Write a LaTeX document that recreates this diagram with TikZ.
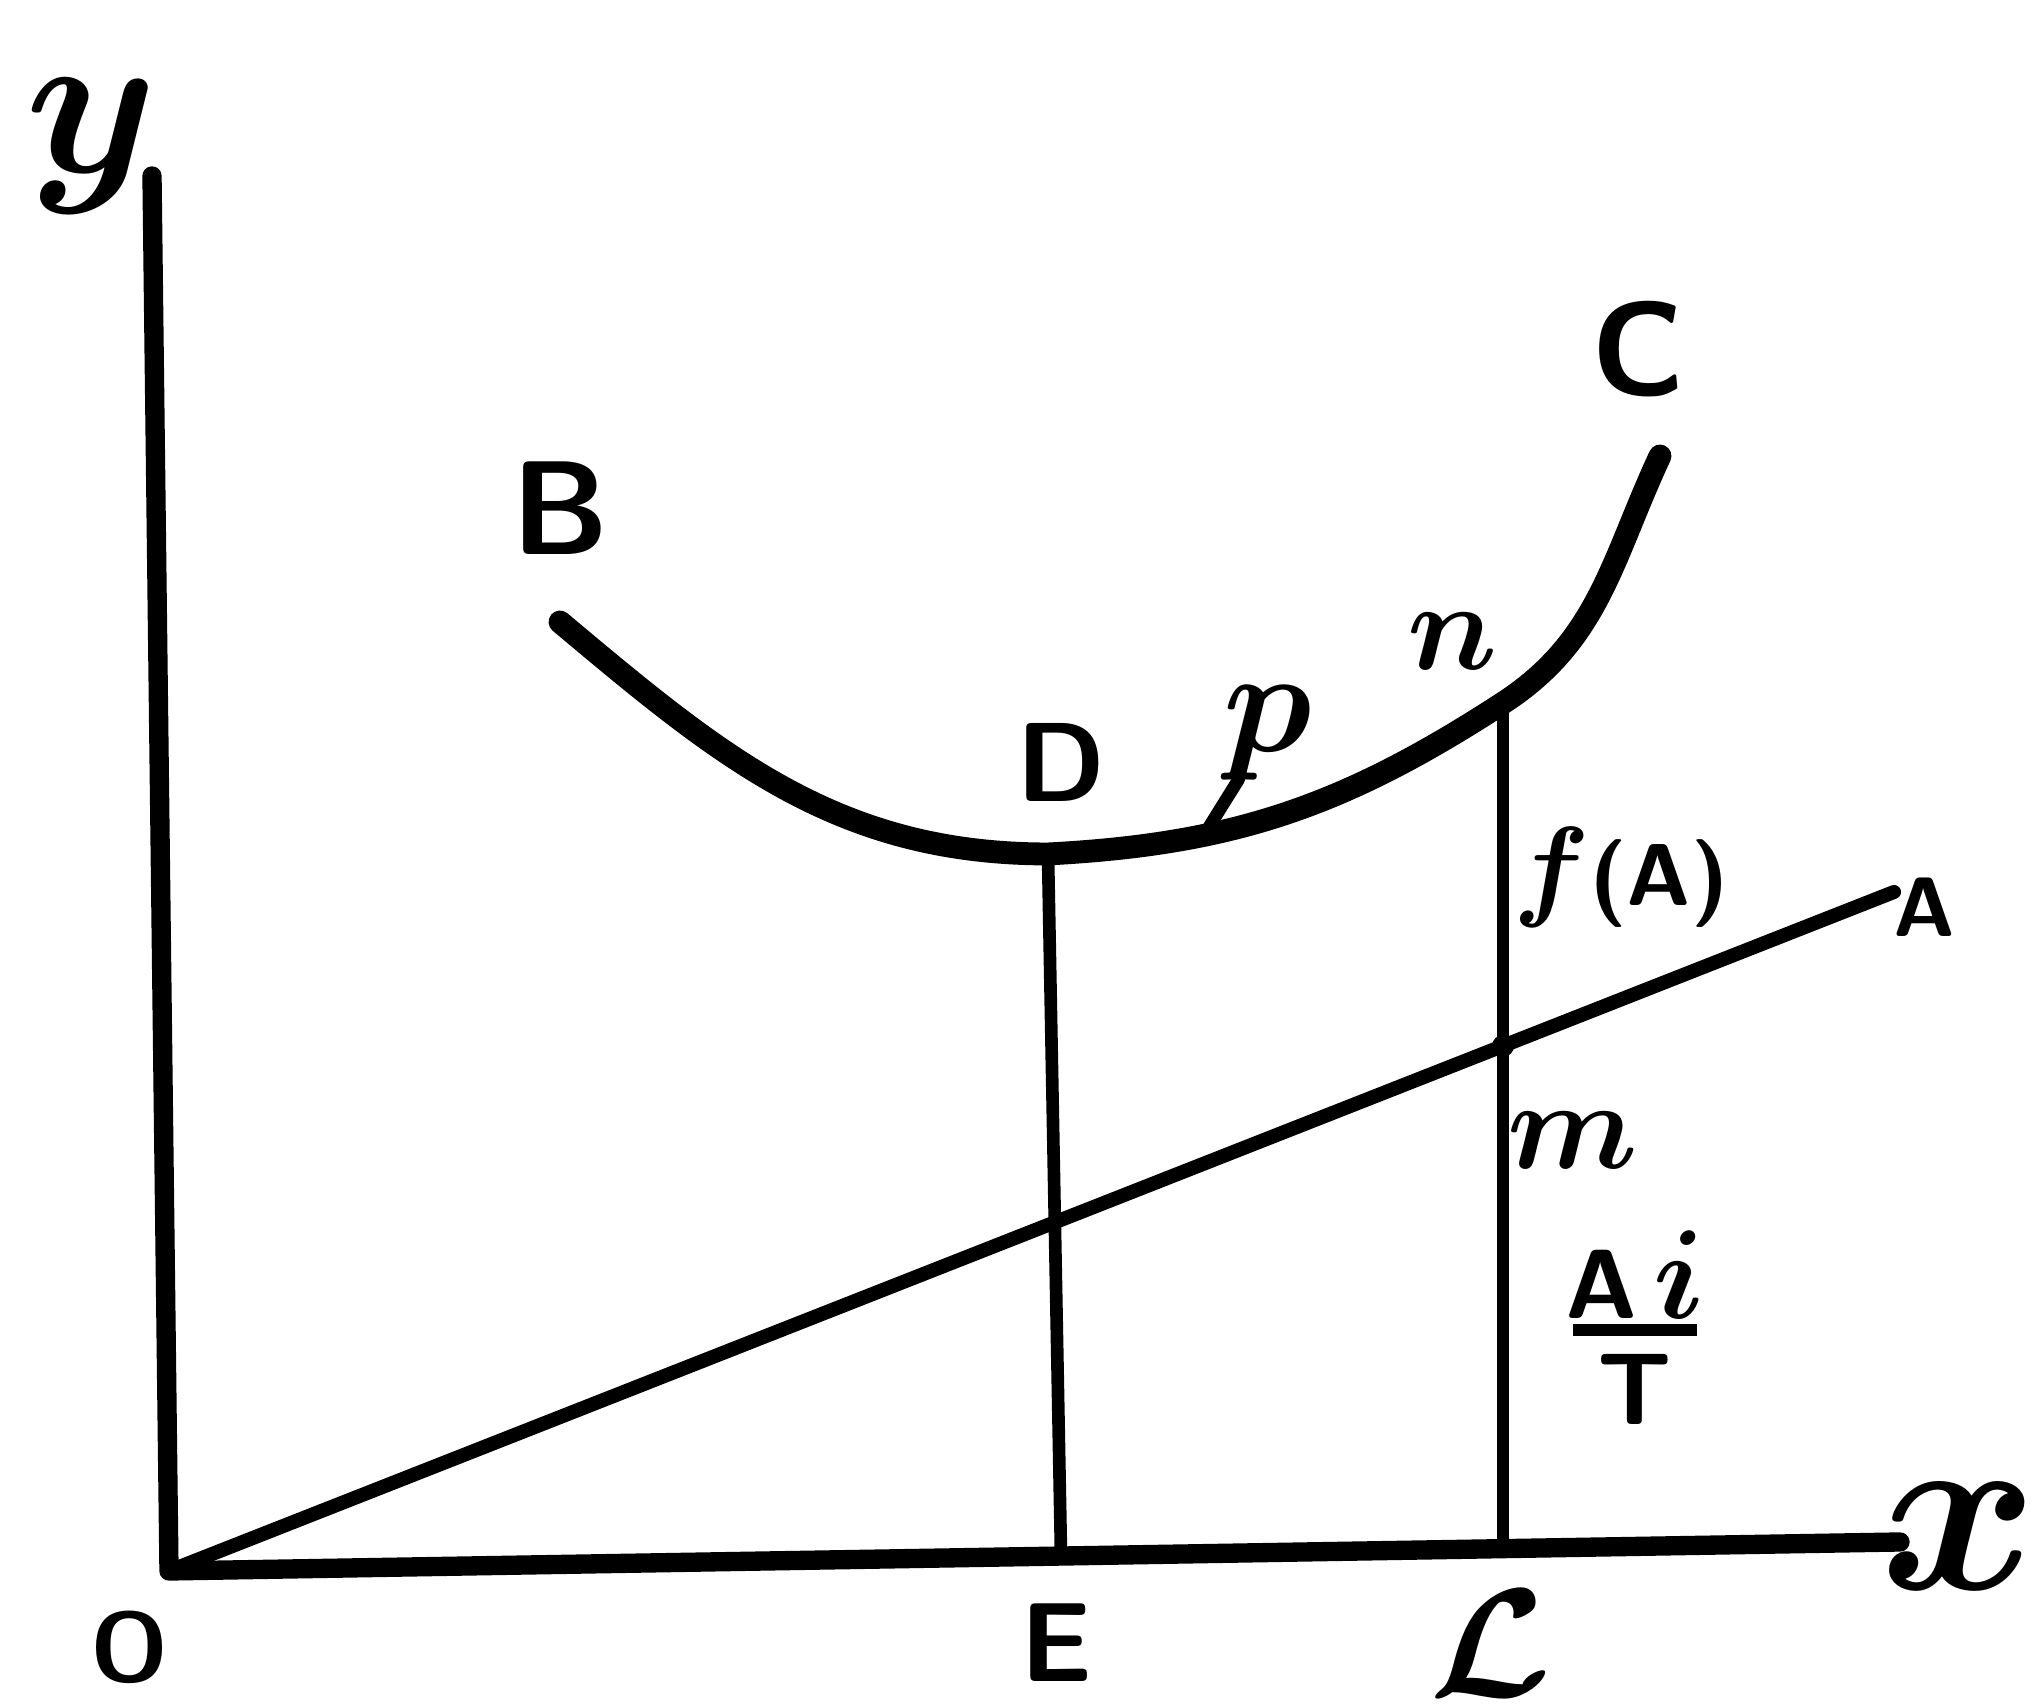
\RequirePackage{fix-cm}
\documentclass[tikz,border=0pt]{standalone}
\usepackage{tikz}
\usetikzlibrary{calc}

\begin{document}
\begin{tikzpicture}[
    caps/.style={inner sep=0pt, font=\fontsize{#1}{#1}\sffamily\bfseries\selectfont\boldmath},
    ital/.style={inner sep=0pt, font=\fontsize{#1}{#1}\selectfont\boldmath},
    axis/.style={line width=5.5pt, line cap=round, line join=round},
    arc/.style={line width=6.5pt, line cap=round},
    ray/.style={line width=4pt, line cap=round},
    drop/.style={line width=3.6pt, line cap=round}
]
\useasboundingbox (0,0) rectangle (20.41,17.04);

\coordinate (O) at (1.69,1.33);
\coordinate (ytop) at (1.52,15.28);
\coordinate (xend) at (19.00,1.62);
\coordinate (Aend) at (18.94,8.12);
\coordinate (Bend) at (5.60,10.82);
\coordinate (D) at (10.48,8.50);
\coordinate (n) at (15.03,10.01);
\coordinate (Cend) at (16.60,12.48);
\coordinate (Ef) at (10.61,1.48);
\coordinate (Lf) at (15.03,1.55);
\coordinate (m) at (intersection of O--Aend and n--Lf);

\draw[axis] (ytop) -- (O) -- (xend);
\draw[ray] (O) -- (Aend);
\draw[arc] (Bend) to[out=-40,in=180] (D)
    to[out=3,in=213] coordinate[pos=0.31] (pc) (n)
    to[out=33,in=245] (Cend);
\draw[drop] (D) -- (Ef);
\draw[drop] (n) -- (Lf);
\fill (n) circle (0.11);
\fill (m) circle (0.11);

\node[ital=60] (ylab) at ($(ytop)+(-0.60,0.30)$) {$y$};
\node[ital=68] (xlab) at ($(xend)+(0.59,0.06)$) {$x$};
\node[caps=28] (olab) at ($(O)+(-0.39,-0.76)$) {O};
\node[caps=38] (blab) at ($(Bend)+(0,1.14)$) {B};
\node[caps=38] (clab) at ($(Cend)+(-0.22,1.07)$) {C};
\node[caps=32] (dlab) at ($(D)+(0.13,0.92)$) {D};
\node[caps=32] (elab) at ($(Ef)+(-0.04,-0.87)$) {E};
\node[ital=44] (llab) at ($(Lf)+(-0.13,-0.94)$) {$\mathcal{L}$};
\node[ital=36] (nlab) at ($(n)+(-0.50,0.62)$) {$n$};
\node[ital=36] (mlab) at ($(m)+(0.70,-0.95)$) {$m$};
\node[ital=42] (plab) at ($(pc)+(0.64,1.02)$) {$p$};
\node[caps=24] (alab) at ($(Aend)+(0.30,-0.15)$) {A};
\node[caps=25] (flab) at ($(n)+(1.18,-1.74)$) {{\fontsize{32}{32}\selectfont$f$}(A)};
\node[caps=28, align=center, anchor=south] (frac) at ($(Lf)+(1.32,1.24)$)
    {A\,{\fontsize{36}{36}\selectfont$i$}\\[-23pt]\rule{1.24cm}{3.5pt}\\[-3pt]{\fontsize{29}{29}\selectfont T}};

\draw[drop] ($(plab.south west)+(0.16,0.02)$) -- (pc);
\end{tikzpicture}
\end{document}
